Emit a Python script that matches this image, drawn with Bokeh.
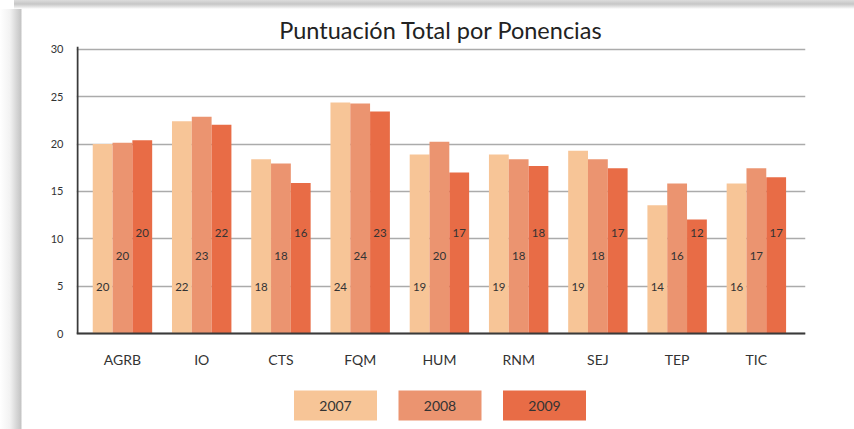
from bokeh.plotting import figure
from bokeh.models import (ColumnDataSource, Range1d, LabelSet, FixedTicker,
                          GlobalInlineStyleSheet, Title)
from bokeh.transform import dodge
from bokeh.embed import file_html
from bokeh.resources import INLINE
from bokeh.core.properties import value

# ---- data ----
categories = ["AGRB", "IO", "CTS", "FQM", "HUM", "RNM", "SEJ", "TEP", "TIC"]
years = ["2007", "2008", "2009"]
v2007 = [20.0, 22.4, 18.4, 24.4, 18.9, 18.9, 19.3, 13.55, 15.85]
v2008 = [20.15, 22.9, 17.95, 24.3, 20.25, 18.4, 18.4, 15.85, 17.45]
v2009 = [20.4, 22.05, 15.9, 23.45, 17.0, 17.7, 17.45, 12.05, 16.5]
y_ticks = [0, 5, 10, 15, 20, 25, 30]

# ---- style ----
colors = ["#F7C597", "#EB9470", "#E86C46"]
series = [v2007, v2008, v2009]
offsets = [-0.25, 0.0, 0.25]
label_heights = [4.96, 8.22, 10.65]
FONT = "Lato"

W, H = 854, 429
BL, BR, BT = 76, 49, 46
FW, FH = W - BL - BR, H - BT          # frame size in px
ZERO_FROM_TOP = 287                   # px from frame top to the zero line
PX_PER_UNIT = 9.47
y_top = ZERO_FROM_TOP / PX_PER_UNIT
y_bottom = -(FH - ZERO_FROM_TOP) / PX_PER_UNIT

idx = list(range(len(categories)))
src_data = {"cat": categories, "xi": idx}
for yr, vals in zip(years, series):
    src_data[yr] = vals
    src_data["lbl" + yr] = [str(int(v + 0.5)) for v in vals]
for yr, h in zip(years, label_heights):
    src_data["ly" + yr] = [h] * len(categories)
source = ColumnDataSource(src_data)

css = GlobalInlineStyleSheet(css="""
html, body { background-color: #ffffff; }
body {
  background-image:
    linear-gradient(to bottom, #dcdcdc 0px, #c6c6c6 4px, #e6e6e6 7px, #ffffff 9px),
    linear-gradient(to right, #ffffff 0px, #f2f2f2 10px, #c4c4c4 21px, #ffffff 22px);
  background-size: 100% 9px, 22px 100%;
  background-position: 14px 0px, 0px 9px;
  background-repeat: no-repeat, no-repeat;
}
""")

p = figure(width=W, height=H, output_backend="svg", toolbar_location=None,
           x_range=Range1d(-0.58, len(categories) - 1 + 0.62),
           y_range=Range1d(y_bottom, y_top),
           min_border_left=BL, min_border_right=BR, min_border_top=BT,
           min_border_bottom=0, tools="")
p.extra_x_ranges = {"lx": Range1d(0, FW)}
p.extra_y_ranges = {"ly": Range1d(FH, 0)}
p.border_fill_color = None
p.background_fill_color = None
p.outline_line_color = None
p.stylesheets = [css]

p.title = Title(text="Puntuación Total por Ponencias", align="center",
                text_font=FONT, text_font_size="23.5px", text_font_style="normal",
                text_color="#222222", standoff=5)

for yr, off, col in zip(years, offsets, colors):
    p.vbar(x=dodge("xi", off), top=yr, width=0.25,
           source=source, fill_color=col, line_color=None)
    p.add_layout(LabelSet(x=dodge("xi", off), y="ly" + yr,
                          text="lbl" + yr, source=source,
                          text_align="center", text_baseline="middle",
                          text_font=value(FONT), text_font_size="11.5px",
                          text_color="#333333"))

p.xgrid.grid_line_color = None
p.ygrid.grid_line_color = "#ababab"
p.ygrid.grid_line_width = 1.5
p.ygrid.ticker = y_ticks
p.yaxis.ticker = y_ticks

# y axis: labels only; its line is drawn from 0 to the top of the range
p.yaxis.axis_line_color = None
p.yaxis.major_tick_line_color = None
p.yaxis.minor_tick_line_color = None
p.yaxis.major_tick_out = 0
p.yaxis.major_tick_in = 0
p.yaxis.major_label_standoff = 13
p.yaxis.major_label_text_font = FONT
p.yaxis.major_label_text_font_size = "11px"
p.yaxis.major_label_text_color = "#333333"
p.segment(x0=[1], y0=[0], x1=[1], y1=[y_top], x_range_name="lx",
          line_color="#3a3a3a", line_width=2)

# x axis sits on the zero line
p.xaxis.ticker = FixedTicker(ticks=idx)
p.xaxis.major_label_overrides = {i: c for i, c in zip(idx, categories)}
p.xaxis.fixed_location = 0
p.xaxis.axis_line_color = "#3a3a3a"
p.xaxis.axis_line_width = 2
p.xaxis.major_tick_line_color = None
p.xaxis.minor_tick_line_color = None
p.xaxis.major_tick_out = 0
p.xaxis.major_tick_in = 0
p.xaxis.major_label_standoff = 17
p.xaxis.major_label_text_font = FONT
p.xaxis.major_label_text_font_size = "14px"
p.xaxis.major_label_text_color = "#333333"

# ---- legend (pixel coordinates inside the frame) ----
leg_centre, leg_step, leg_y = 363.5, 104.5, 359
leg_src = ColumnDataSource({
    "x": [leg_centre + (i - 1) * leg_step for i in range(len(years))],
    "y": [leg_y] * len(years),
    "year": years,
    "color": colors,
})
p.rect(x="x", y="y", width=83, height=30, fill_color="color",
       line_color=None, source=leg_src, x_range_name="lx", y_range_name="ly")
p.text(x="x", y="y", text="year", source=leg_src, text_align="center",
       text_baseline="middle", text_font=value(FONT), text_font_size="14px",
       text_color="#333333", x_range_name="lx", y_range_name="ly")

open("out.html", "w").write(file_html(p, INLINE))
